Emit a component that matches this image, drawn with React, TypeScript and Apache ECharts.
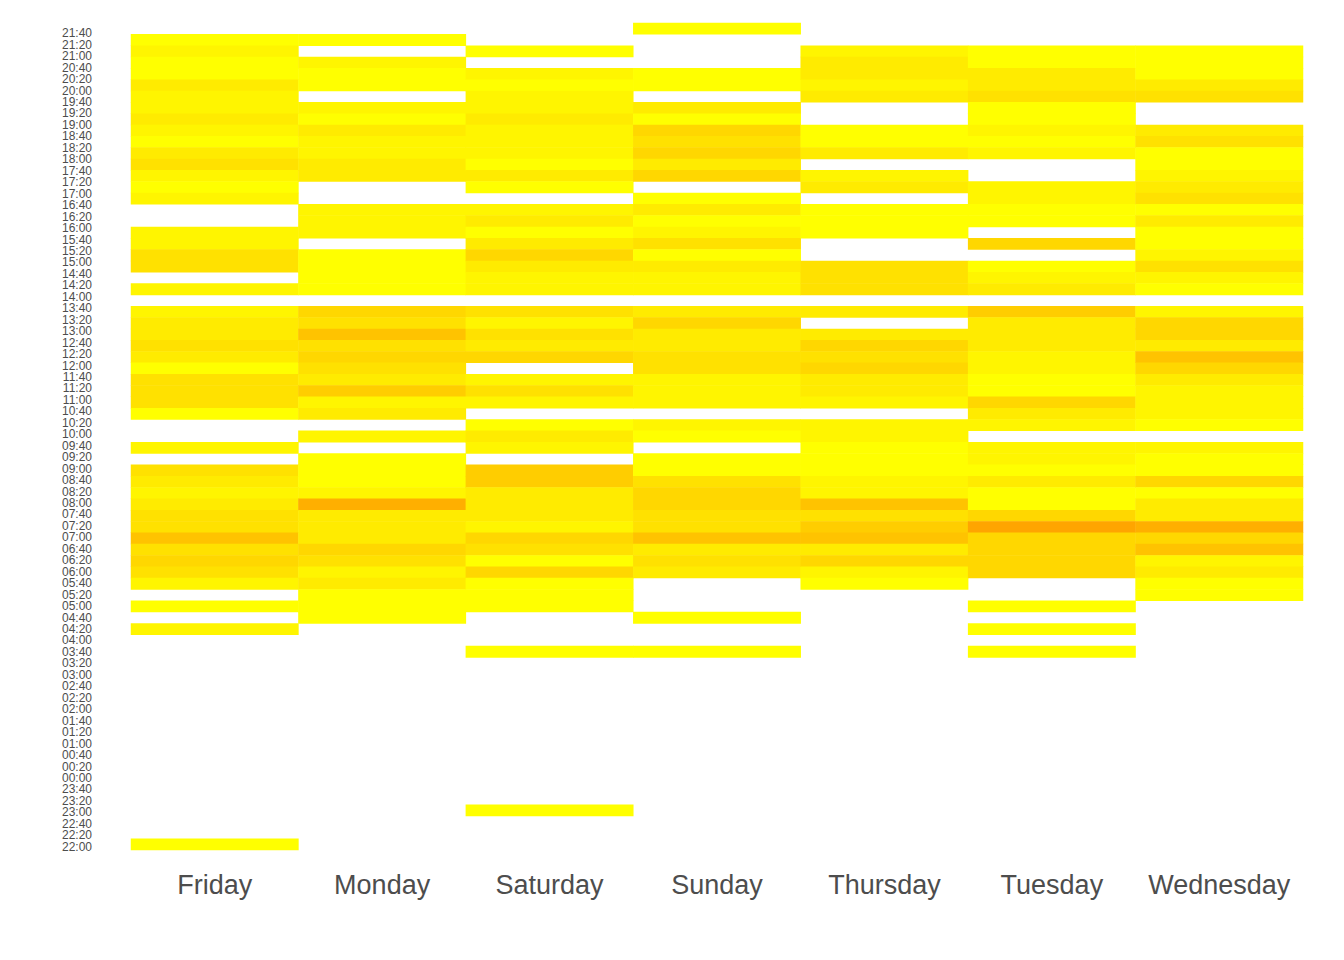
import React, { useEffect, useRef } from "react";
import * as echarts from "echarts";

const days = ["Friday", "Monday", "Saturday", "Sunday", "Thursday", "Tuesday", "Wednesday"];

// tick labels, bottom to top
const timeLabels = [
  "22:00", "22:20", "22:40", "23:00", "23:20", "23:40",
  "00:00", "00:20", "00:40", "01:00", "01:20", "01:40",
  "02:00", "02:20", "02:40", "03:00", "03:20", "03:40",
  "04:00", "04:20", "04:40", "05:00", "05:20", "05:40",
  "06:00", "06:20", "06:40", "07:00", "07:20", "07:40",
  "08:00", "08:20", "08:40", "09:00", "09:20", "09:40",
  "10:00", "10:20", "10:40", "11:00", "11:20", "11:40",
  "12:00", "12:20", "12:40", "13:00", "13:20", "13:40",
  "14:00", "14:20", "14:40", "15:00", "15:20", "15:40",
  "16:00", "16:20", "16:40", "17:00", "17:20", "17:40",
  "18:00", "18:20", "18:40", "19:00", "19:20", "19:40",
  "20:00", "20:20", "20:40", "21:00", "21:20", "21:40",
];

const N = null;
// cell values per day, 73 time slots listed from top row to bottom row
const friday = [
  N, 1, 2, 1, 1, 3, 2, 2, 3, 2, 1, 3, 4, 2, 1, 2, N, N, 2, 2, 4, 4, N, 2, N,
  2, 3, 3, 4, 3, 1, 4, 4, 4, 1, N, N, 2, N, 4, 3, 2, 3, 4, 4, 7, 4, 5, 4, 2,
  N, 1, N, 2, N, N, N, N, N, N, N, N, N, N, N, N, N, N, N, N, N, N, 1,
];
const monday = [
  N, 1, N, 2, 1, 1, N, 2, 1, 3, 2, 2, 3, 3, N, N, 2, 2, 2, N, 1, 1, 1, 1, N,
  5, 4, 7, 4, 5, 4, 3, 6, 2, 3, N, 2, N, 1, 1, 1, 2, 9, 3, 3, 3, 5, 4, 2, 3,
  1, 1, 1, N, N, N, N, N, N, N, N, N, N, N, N, N, N, N, N, N, N, N, N,
];
const saturday = [
  N, N, 1, N, 2, 1, 2, 2, 3, 2, 2, 2, 1, 3, 1, N, 2, 3, 1, 3, 5, 3, 2, 2, N,
  4, 2, 4, 3, 5, N, 2, 4, 2, N, 1, 3, 2, N, 6, 6, 3, 3, 3, 2, 5, 4, 1, 5, 1,
  1, 1, N, N, N, 1, N, N, N, N, N, N, N, N, N, N, N, N, N, 1, N, N, N,
];
const sunday = [
  1, N, N, N, 1, 1, N, 3, 1, 5, 4, 5, 3, 5, N, 1, 3, 1, 2, 4, 1, 3, 2, 2, N,
  3, 5, 3, 3, 4, 4, 2, 2, 2, N, 2, 1, N, 1, 1, 4, 5, 5, 4, 4, 7, 3, 4, 3, N,
  N, N, 1, N, N, 1, N, N, N, N, N, N, N, N, N, N, N, N, N, N, N, N, N,
];
const thursday = [
  N, N, 2, 3, 3, 2, 3, N, N, 1, 1, 3, N, 2, 3, N, 1, 1, 1, N, N, 4, 4, 4, N,
  3, N, 3, 5, 4, 5, 3, 3, 2, N, 2, 2, 1, 1, 1, 2, 2, 7, 4, 6, 7, 3, 5, 2, 1,
  N, N, N, N, N, N, N, N, N, N, N, N, N, N, N, N, N, N, N, N, N, N, N,
];
const tuesday = [
  N, N, 1, 1, 3, 3, 4, 1, 1, 2, 1, 2, N, N, 2, 2, 1, 1, N, 5, N, 1, 2, 3, N,
  6, 3, 3, 3, 2, 2, 1, 1, 5, 3, 2, N, 2, 2, 1, 3, 1, 1, 5, 10, 5, 5, 5, 5, N,
  N, 1, N, 1, N, 1, N, N, N, N, N, N, N, N, N, N, N, N, N, N, N, N, N,
];
const wednesday = [
  N, N, 1, 1, 1, 3, 4, N, N, 3, 4, 1, 1, 2, 3, 4, 1, 3, 1, 1, 2, 4, 2, 1, N,
  2, 5, 5, 3, 7, 5, 3, 2, 2, 2, 1, N, 2, 1, 1, 5, 1, 3, 3, 9, 5, 7, 2, 3, 1,
  1, N, N, N, N, N, N, N, N, N, N, N, N, N, N, N, N, N, N, N, N, N, N,
];

const dayValues = [friday, monday, saturday, sunday, thursday, tuesday, wednesday];
const slotCount = friday.length;
const slots = Array.from({ length: slotCount }, (_, i) => "slot" + i);

export default function App() {
  const ref = useRef<HTMLDivElement>(null);

  useEffect(() => {
    if (!ref.current) return;
    const chart = echarts.init(ref.current, undefined, { renderer: "svg" });

    const data: [number, number, number][] = [];
    dayValues.forEach((vals, d) => {
      vals.forEach((v, k) => {
        if (v !== null) data.push([d, slotCount - 1 - k, v as number]);
      });
    });

    chart.setOption({
      animation: false,
      backgroundColor: "#ffffff",
      grid: [
        { left: 131, right: 41, top: 23, bottom: 110 },
        { left: 131, right: 41, top: 33.3, bottom: 113.3 },
      ],
      xAxis: [
        {
          gridIndex: 0,
          type: "category",
          data: days,
          axisLine: { show: false },
          axisTick: { show: false },
          splitLine: { show: false },
          splitArea: { show: false },
          axisLabel: {
            fontSize: 27,
            color: "#4D4D4D",
            fontFamily: "Liberation Sans, Arial, sans-serif",
            margin: 35,
            verticalAlign: "middle",
            interval: 0,
          },
        },
        { gridIndex: 1, type: "value", show: false },
      ],
      yAxis: [
        {
          gridIndex: 0,
          type: "category",
          data: slots,
          show: false,
        },
        {
          gridIndex: 1,
          type: "category",
          data: timeLabels,
          boundaryGap: false,
          axisLine: { show: false },
          axisTick: { show: false },
          splitLine: { show: false },
          axisLabel: {
            fontSize: 12,
            color: "#4D4D4D",
            fontFamily: "Liberation Sans, Arial, sans-serif",
            margin: 39,
            interval: 0,
          },
        },
      ],
      visualMap: {
        show: false,
        min: 1,
        max: 10,
        seriesIndex: 0,
        inRange: { color: ["#FFFF00", "#FFA500"] },
      },
      series: [
        {
          type: "heatmap",
          xAxisIndex: 0,
          yAxisIndex: 0,
          data,
          itemStyle: { borderWidth: 0 },
          emphasis: { disabled: true },
          progressive: 0,
        },
      ],
    });

    return () => chart.dispose();
  }, []);

  return (
    <div
      ref={ref}
      style={{ position: "absolute", left: 0, top: 0, width: 1344, height: 960 }}
    />
  );
}
